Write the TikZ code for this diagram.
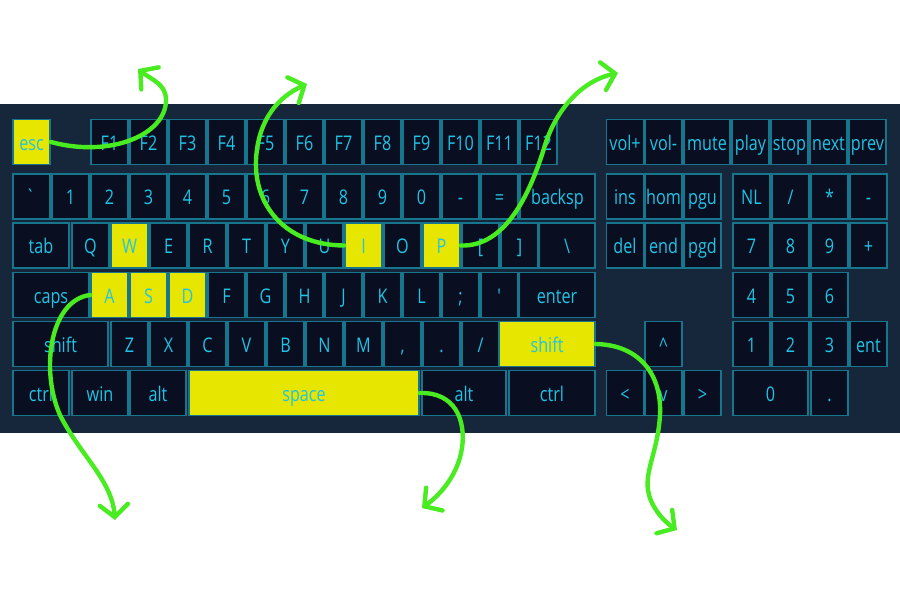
\documentclass[tikz,border=0pt]{standalone}
\usepackage{fontspec}
\setmainfont[FakeStretch=0.8]{Open Sans}
\usepackage{tikz}
\usetikzlibrary{arrows.meta}
\definecolor{boardbg}{RGB}{22,38,59}
\definecolor{keyfill}{RGB}{9,14,32}
\definecolor{keyedge}{RGB}{22,118,142}
\definecolor{keytext}{RGB}{32,196,230}
\definecolor{hilite}{RGB}{230,230,0}
\definecolor{scribble}{RGB}{72,236,32}

\begin{document}
\begin{tikzpicture}[x=0.02cm, y=-0.02cm,
  kbkey/.style={draw=keyedge, line width=1pt, fill=keyfill, text=keytext,
    inner sep=0pt, minimum width=0.74cm, minimum height=0.9cm,
    text height=0.42cm, text depth=0.1cm,
    font=\fontsize{11.5}{13}\selectfont},
  scrawl/.style={draw=scribble, line width=2.5pt, line cap=round,
    -{Straight Barb[length=7pt,width=16pt,line cap=round]}}]
  \useasboundingbox (0,0) rectangle (900,600);
  \fill[white] (0,0) rectangle (900,600);
  \fill[boardbg] (0,104) rectangle (900,433);

  %% Function row
  \node[kbkey, fill=hilite] (esc) at (31.5,142) {esc};
  \foreach \i in {1,...,12}
    \node[kbkey] (f\i) at ({109.5+39*(\i-1)},142) {F\i};
  \node[kbkey] (volup) at (625,142) {vol+};
  \node[kbkey] (voldn) at (663.5,142) {vol-};
  \node[kbkey, minimum width=0.92cm] (mute) at (707,142) {mute};
  \node[kbkey] (play) at (750.5,142) {play};
  \node[kbkey] (stop) at (789.5,142) {stop};
  \node[kbkey] (next) at (828.5,142) {next};
  \node[kbkey] (prev) at (867.5,142) {prev};

  %% Number row
  \node[kbkey] (grave) at (31.5,196.5) {\textasciigrave};
  \foreach \lbl [count=\i from 0] in {1,2,3,4,5,6,7,8,9,0,-,=}
    \node[kbkey] (num\i) at ({70.5+39*\i},196.5) {\lbl};
  \node[kbkey, minimum width=1.5cm] (backsp) at (557.5,196.5) {backsp};
  \node[kbkey] (ins) at (625,196.5) {ins};
  \node[kbkey] (home) at (663.5,196.5) {hom};
  \node[kbkey] (pgup) at (702.5,196.5) {pgu};
  \node[kbkey] (numlk) at (751.5,196.5) {NL};
  \node[kbkey] (kpdiv) at (790.5,196.5) {/};
  \node[kbkey] (kpmul) at (829.5,196.5) {*};
  \node[kbkey] (kpsub) at (868.5,196.5) {-};

  %% Top letter row
  \node[kbkey, minimum width=1.12cm] (tab) at (41,245.5) {tab};
  \foreach \nm/\lbl/\fc [count=\i from 0] in {keyQ/Q/keyfill, keyW/W/hilite,
      keyE/E/keyfill, keyR/R/keyfill, keyT/T/keyfill, keyY/Y/keyfill,
      keyU/U/keyfill, keyI/I/hilite, keyO/O/keyfill, keyP/P/hilite,
      lbrack/\lbrack/keyfill, rbrack/\rbrack/keyfill}
    \node[kbkey, fill=\fc] (\nm) at ({90.5+39*\i},245.5) {\lbl};
  \node[kbkey, minimum width=1.12cm] (bslash) at (567,245.5) {\textbackslash};
  \node[kbkey] (del) at (625,245.5) {del};
  \node[kbkey] (end) at (663.5,245.5) {end};
  \node[kbkey] (pgdn) at (702.5,245.5) {pgd};
  \node[kbkey] (kp7) at (751.5,245.5) {7};
  \node[kbkey] (kp8) at (790.5,245.5) {8};
  \node[kbkey] (kp9) at (829.5,245.5) {9};
  \node[kbkey] (kpadd) at (868.5,245.5) {+};

  %% Home row
  \node[kbkey, minimum width=1.52cm] (caps) at (51,295) {caps};
  \foreach \nm/\lbl/\fc [count=\i from 0] in {keyA/A/hilite, keyS/S/hilite,
      keyD/D/hilite, keyF/F/keyfill, keyG/G/keyfill, keyH/H/keyfill,
      keyJ/J/keyfill, keyK/K/keyfill, keyL/L/keyfill, semi/;/keyfill,
      quote/\textquotesingle/keyfill}
    \node[kbkey, fill=\fc] (\nm) at ({109.5+39*\i},295) {\lbl};
  \node[kbkey, minimum width=1.52cm] (enter) at (557,295) {enter};
  \node[kbkey] (kp4) at (751.5,295) {4};
  \node[kbkey] (kp5) at (790.5,295) {5};
  \node[kbkey] (kp6) at (829.5,295) {6};

  %% Bottom letter row
  \node[kbkey, minimum width=1.9cm] (lshift) at (60.5,344) {shift};
  \foreach \lbl [count=\i from 0] in {Z,X,C,V,B,N,M}
    \node[kbkey] (key\lbl) at ({129.5+39*\i},344) {\lbl};
  \node[kbkey] (comma) at (402.5,344) {,};
  \node[kbkey] (period) at (441.5,344) {.};
  \node[kbkey] (slash) at (480.5,344) {/};
  \node[kbkey, fill=hilite, minimum width=1.92cm] (rshift) at (547,344) {shift};
  \node[kbkey] (arrup) at (663.5,344) {\textasciicircum};
  \node[kbkey] (kp1) at (751.5,344) {1};
  \node[kbkey] (kp2) at (790.5,344) {2};
  \node[kbkey] (kp3) at (829.5,344) {3};
  \node[kbkey] (kpent) at (868.5,344) {ent};

  %% Space row
  \node[kbkey, minimum width=1.12cm] (lctrl) at (41,393) {ctrl};
  \node[kbkey, minimum width=1.12cm] (win) at (100,393) {win};
  \node[kbkey, minimum width=1.12cm] (lalt) at (158,393) {alt};
  \node[kbkey, fill=hilite, minimum width=4.6cm] (space) at (304,393) {space};
  \node[kbkey, minimum width=1.68cm] (ralt) at (464,393) {alt};
  \node[kbkey, minimum width=1.72cm] (rctrl) at (552,393) {ctrl};
  \node[kbkey] (arrleft) at (625,393) {<};
  \node[kbkey] (arrdown) at (663.5,393) {v};
  \node[kbkey] (arrright) at (702.5,393) {>};
  \node[kbkey, minimum width=1.5cm] (kp0) at (770.5,393) {0};
  \node[kbkey] (kpdot) at (829.5,393) {.};

  %% Green scribbles
  \coordinate (tipesc) at (138,69);
  \coordinate (tipI) at (307,84);
  \coordinate (tipP) at (618,73);
  \coordinate (tipA) at (115,520);
  \coordinate (tipspace) at (422,508);
  \coordinate (tipshift) at (677,530);
  \draw[scrawl] (esc.east) .. controls (110,158) and (166,135) .. (166,100)
    .. controls (166,84) and (152,80) .. (tipesc);
  \draw[scrawl] (keyI.west) .. controls (285,245) and (254,205) .. (256,160)
    .. controls (258,118) and (280,96) .. (tipI);
  \draw[scrawl] (keyP.east) .. controls (505,247) and (530,195) .. (545,145)
    .. controls (558,105) and (585,80) .. (tipP);
  \draw[scrawl] (keyA.west) .. controls (50,300) and (40,370) .. (60,415)
    .. controls (80,455) and (112,480) .. (tipA);
  \draw[scrawl] (space.east) .. controls (455,392) and (466,420) .. (462,448)
    .. controls (458,475) and (440,495) .. (tipspace);
  \draw[scrawl] (rshift.east) .. controls (640,345) and (662,375) .. (660,415)
    .. controls (658,450) and (645,470) .. (648,490)
    .. controls (650,505) and (662,520) .. (tipshift);
\end{tikzpicture}
\end{document}
